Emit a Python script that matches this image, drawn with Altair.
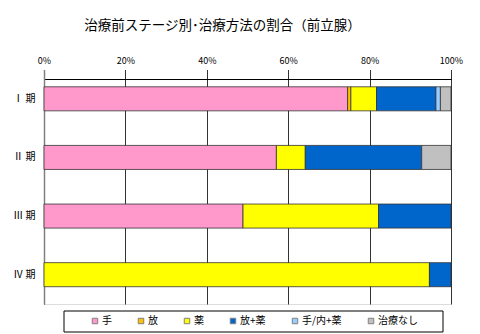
import altair as alt
import pandas as pd

stages = ["Ⅰ 期", "Ⅱ 期", "Ⅲ 期", "Ⅳ 期"]
treatments = ["手", "放", "薬", "放+薬", "手/内+薬", "治療なし"]
colors = ["#FF99CC", "#FFC000", "#FFFF00", "#0066CC", "#99CCFF", "#C0C0C0"]

# percentages per stage, in treatment order
stage1 = [74.6, 0.8, 6.3, 14.6, 1.1, 2.6]
stage2 = [57.1, 0.0, 7.1, 28.6, 0.0, 7.2]
stage3 = [48.9, 0.0, 33.3, 17.8, 0.0, 0.0]
stage4 = [0.0, 0.0, 94.7, 5.3, 0.0, 0.0]

rows = []
for st, vals in zip(stages, [stage1, stage2, stage3, stage4]):
    for i, (t, v) in enumerate(zip(treatments, vals)):
        if v > 0:
            rows.append({"stage": st, "treatment": t, "value": v / 100.0, "order": i})
df = pd.DataFrame(rows)

FONT = "Noto Sans CJK JP"

bars = alt.Chart(df).mark_bar(stroke="#333333", strokeWidth=0.8).encode(
    y=alt.Y("stage:N", sort=stages,
            scale=alt.Scale(range=[-9.5, 225], paddingInner=0.59, paddingOuter=0.295),
            axis=alt.Axis(title=None, labelFont=FONT, labelFontSize=10, labelColor="#000000",
                          labelPadding=9, ticks=False, domainColor="#808080", domainWidth=1.5,
                          grid=False)),
    x=alt.X("value:Q", stack="zero",
            scale=alt.Scale(domain=[0, 1], nice=False),
            axis=alt.Axis(orient="top", title=None, format=".0%", values=[0, 0.2, 0.4, 0.6, 0.8, 1.0],
                          labelFont=FONT, labelFontSize=9, labelColor="#000000", labelPadding=14,
                          labelFlush=False, labelOverlap=False,
                          ticks=False, domainColor="#000000", domainWidth=1,
                          grid=True, gridColor="#333333", gridWidth=1)),
    color=alt.Color("treatment:N", sort=treatments,
                    scale=alt.Scale(domain=treatments, range=colors),
                    legend=alt.Legend(title=None, orient="none", direction="horizontal",
                                      legendX=46, legendY=237, columns=6, columnPadding=24,
                                      symbolType="square", symbolSize=30, symbolStrokeColor="#808080",
                                      symbolStrokeWidth=1, labelFont=FONT, labelFontSize=10,
                                      labelColor="#000000", labelOffset=2, padding=0)),
    order=alt.Order("order:Q"),
)

box = alt.Chart(pd.DataFrame({"a": [0]})).mark_rect(
    fill="transparent", stroke="#000000", strokeWidth=1, clip=False
).encode(x=alt.value(20), x2=alt.value(399), y=alt.value(232), y2=alt.value(253))

chart = alt.layer(bars, box).properties(
    width=407, height=225,
    title=alt.TitleParams("治療前ステージ別･治療方法の割合（前立腺）", font=FONT, fontSize=13.5,
                          fontWeight="normal", color="#000000", anchor="middle", dx=-25, offset=24),
    autosize=alt.AutoSizeParams(type="none"),
    padding={"left": 44, "top": 79, "right": 29, "bottom": 30},
).configure_view(stroke="#A0A0A0", strokeWidth=1.5).configure(background="#FFFFFF")

chart.save("out.html", embed_options={"renderer": "svg", "actions": False})
